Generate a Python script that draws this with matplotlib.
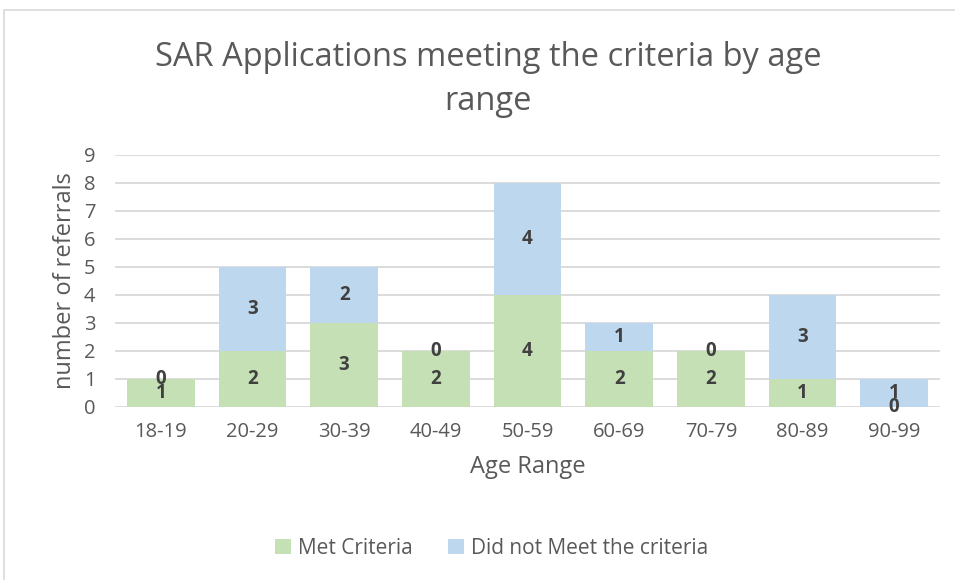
import matplotlib.pyplot as plt
from matplotlib.patches import Rectangle
import numpy as np

age_ranges = ['18-19', '20-29', '30-39', '40-49', '50-59', '60-69', '70-79', '80-89', '90-99']
met = [1, 2, 3, 2, 4, 2, 2, 1, 0]
not_met = [0, 3, 2, 0, 4, 1, 0, 3, 1]

GREEN = '#C5E0B4'
BLUE = '#BDD7EE'
TEXT = '#595959'
LABEL = '#404040'

plt.rcParams['font.family'] = ['Open Sans', 'DejaVu Sans']

W, H = 955, 580
fig = plt.figure(figsize=(W / 100, H / 100), dpi=100)
ax = fig.add_axes([115 / W, 1 - 407 / H, 825 / W, 252 / H])

x = np.arange(len(age_ranges))
ax.bar(x, met, width=0.74, color=GREEN, label='Met Criteria', zorder=2)
ax.bar(x, not_met, width=0.74, bottom=met, color=BLUE,
       label='Did not Meet the criteria', zorder=2)

# data labels centred on each segment (zero segments sit on the boundary)
for i in range(len(x)):
    ax.text(x[i], met[i] / 2, str(met[i]), ha='center', va='center',
            fontsize=13.5, fontweight='bold', color=LABEL, zorder=3)
    ax.text(x[i], met[i] + not_met[i] / 2, str(not_met[i]), ha='center', va='center',
            fontsize=13.5, fontweight='bold', color=LABEL, zorder=3)

ax.set_xlim(-0.5, len(x) - 0.5)
ax.set_ylim(0, 9)
ax.set_yticks(range(10))
ax.set_xticks(x)
ax.set_xticklabels(age_ranges)
ax.grid(axis='y', color='#D9D9D9', linewidth=1.3, zorder=0)
ax.tick_params(length=0, labelsize=14.5, labelcolor=TEXT)
ax.tick_params(axis='x', pad=11)
ax.tick_params(axis='y', pad=14)
for s in ax.spines.values():
    s.set_visible(False)

ax.set_xlabel('Age Range', fontsize=17, color=TEXT, labelpad=9)
ax.set_ylabel('number of referrals', fontsize=17, color=TEXT, labelpad=5)

fig.text(488 / W, 1 - 58 / H, 'SAR Applications meeting the criteria by age',
         ha='center', va='center', fontsize=23.5, color=TEXT)
fig.text(488 / W, 1 - 101 / H, 'range', ha='center', va='center', fontsize=23.5, color=TEXT)

fig.legend(loc='center', bbox_to_anchor=(492 / W, 1 - 548 / H), ncol=2, frameon=False,
           fontsize=15, labelcolor=TEXT, handlelength=0.75, handleheight=0.75,
           handletextpad=0.35, columnspacing=1.7)

fig.patches.append(Rectangle((4 / W, -0.1), 1.1, 1 - 10 / H + 0.1, transform=fig.transFigure,
                             fill=False, edgecolor='#D9D9D9', linewidth=1.2))

fig.savefig('out.png', dpi=100)
